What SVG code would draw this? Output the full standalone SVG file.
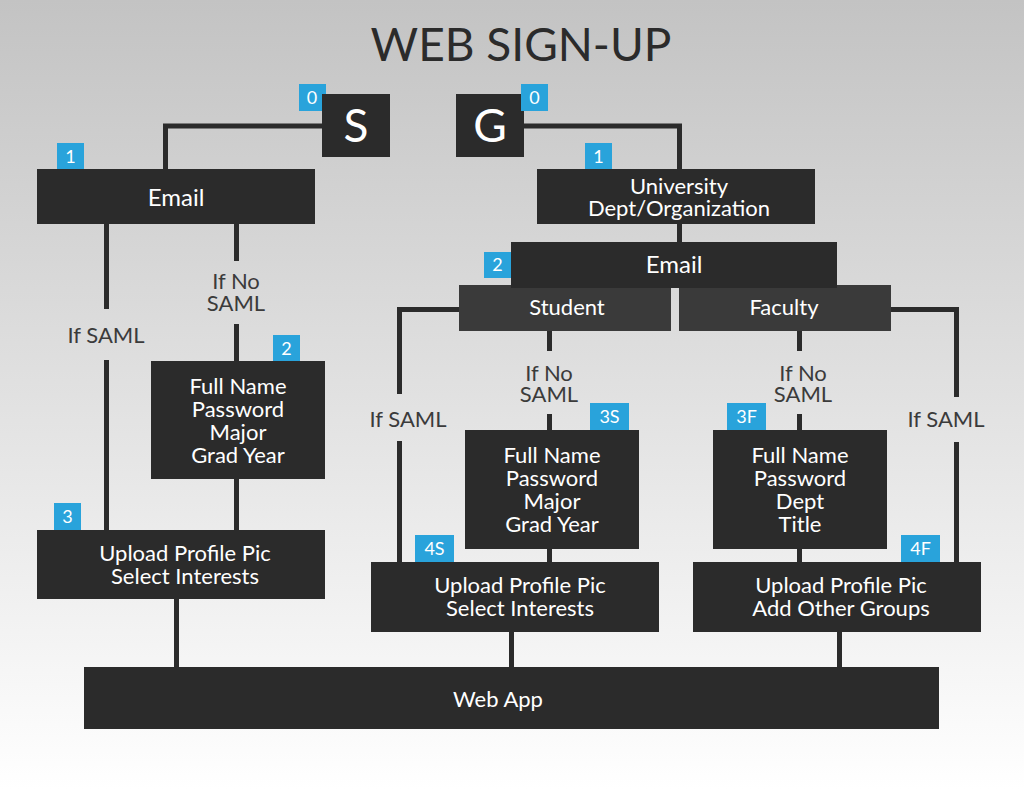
<svg xmlns="http://www.w3.org/2000/svg" width="1024" height="790" viewBox="0 0 1024 790">
<defs>
<linearGradient id="bg" x1="0" y1="0" x2="0" y2="1">
<stop offset="0" stop-color="#c3c3c3"/>
<stop offset="1" stop-color="#ffffff"/>
</linearGradient>
</defs>
<style>
.box{fill:#2b2b2b}
.sub{fill:#3a3a3a}
.badge{fill:#29a3db}
.t{font-family:Lato,"Noto Sans",sans-serif;fill:#ffffff;text-anchor:middle;font-size:22px}
.big{font-size:46px}
.em{font-size:24px}
.bt{font-family:Lato,"Noto Sans",sans-serif;fill:#ffffff;text-anchor:middle;font-size:18px}
.lbl{font-family:Lato,"Noto Sans",sans-serif;fill:#3b3b3b;text-anchor:middle;font-size:22px}
.ln{stroke:#2b2b2b;stroke-width:5;fill:none}
</style>
<rect x="0" y="0" width="1024" height="790" fill="url(#bg)"/>
<text x="521" y="61" style="font-family:Lato,'Noto Sans',sans-serif;font-size:46px;fill:#2b2b2b;text-anchor:middle">WEB SIGN-UP</text>
<g id="connectors">
<polyline class="ln" points="322,126 165.5,126 165.5,170"/>
<polyline class="ln" points="524,126 679.5,126 679.5,170"/>
<line class="ln" x1="679.5" y1="224" x2="679.5" y2="243"/>
<line class="ln" x1="106.5" y1="224" x2="106.5" y2="309"/>
<line class="ln" x1="106.5" y1="360" x2="106.5" y2="531"/>
<line class="ln" x1="236.5" y1="224" x2="236.5" y2="261"/>
<line class="ln" x1="236.5" y1="324" x2="236.5" y2="362"/>
<line class="ln" x1="236.5" y1="479" x2="236.5" y2="531"/>
<line class="ln" x1="176.5" y1="599" x2="176.5" y2="668"/>
<polyline class="ln" points="460,309.5 399.5,309.5 399.5,394"/>
<line class="ln" x1="399.5" y1="441" x2="399.5" y2="563"/>
<line class="ln" x1="549.5" y1="331" x2="549.5" y2="351"/>
<line class="ln" x1="549.5" y1="414" x2="549.5" y2="431"/>
<line class="ln" x1="549.5" y1="549" x2="549.5" y2="563"/>
<line class="ln" x1="511.5" y1="632" x2="511.5" y2="668"/>
<polyline class="ln" points="890,309.5 956.5,309.5 956.5,397"/>
<line class="ln" x1="956.5" y1="442" x2="956.5" y2="563"/>
<line class="ln" x1="799.5" y1="331" x2="799.5" y2="351"/>
<line class="ln" x1="799.5" y1="414" x2="799.5" y2="431"/>
<line class="ln" x1="799.5" y1="549" x2="799.5" y2="563"/>
<line class="ln" x1="839.5" y1="632" x2="839.5" y2="668"/>
</g>
<g id="labels">
<text class="lbl" x="106" y="343">If SAML</text>
<text class="lbl" x="236" y="289">If No</text>
<text class="lbl" x="236" y="311">SAML</text>
<text class="lbl" x="408" y="427">If SAML</text>
<text class="lbl" x="549" y="381">If No</text>
<text class="lbl" x="549" y="402">SAML</text>
<text class="lbl" x="946" y="427">If SAML</text>
<text class="lbl" x="803" y="381">If No</text>
<text class="lbl" x="803" y="402">SAML</text>
</g>
<g id="node-s">
<rect class="badge" x="299" y="84" width="27" height="27"/>
<text class="bt" x="312" y="104">0</text>
<rect class="box" x="322" y="94" width="68" height="63"/>
<text class="t big" x="356" y="142">S</text>
</g>
<g id="node-g">
<rect class="box" x="456" y="94" width="68" height="63"/>
<text class="t big" x="490" y="142">G</text>
<rect class="badge" x="521" y="84" width="27" height="27"/>
<text class="bt" x="534.5" y="104">0</text>
</g>
<g id="node-email-s">
<rect class="badge" x="57" y="143" width="27" height="27"/>
<text class="bt" x="70.5" y="163">1</text>
<rect class="box" x="37" y="169" width="278" height="55"/>
<text class="t em" x="176" y="206">Email</text>
</g>
<g id="node-full-s">
<rect class="badge" x="273" y="335" width="27" height="27"/>
<text class="bt" x="286.5" y="355">2</text>
<rect class="box" x="151" y="361" width="174" height="118"/>
<text class="t" x="238" y="394">Full Name</text>
<text class="t" x="238" y="417">Password</text>
<text class="t" x="238" y="440">Major</text>
<text class="t" x="238" y="463">Grad Year</text>
</g>
<g id="node-upload-s">
<rect class="badge" x="54" y="503" width="27" height="27"/>
<text class="bt" x="67.5" y="523">3</text>
<rect class="box" x="37" y="530" width="288" height="69"/>
<text class="t" x="185" y="561">Upload Profile Pic</text>
<text class="t" x="185" y="584">Select Interests</text>
</g>
<g id="node-univ">
<rect class="badge" x="585" y="143" width="27" height="27"/>
<text class="bt" x="598.5" y="163">1</text>
<rect class="box" x="537" y="169" width="278" height="55"/>
<text class="t" x="679" y="194">University</text>
<text class="t" x="679" y="216">Dept/Organization</text>
</g>
<g id="node-student">
<rect class="sub" x="459" y="285" width="212" height="46"/>
<text class="t" x="567" y="315">Student</text>
</g>
<g id="node-faculty">
<rect class="sub" x="679" y="285" width="212" height="46"/>
<text class="t" x="784" y="315">Faculty</text>
</g>
<g id="node-email-g">
<rect class="badge" x="484" y="252" width="27" height="26"/>
<text class="bt" x="497.5" y="271">2</text>
<rect class="box" x="511" y="242" width="326" height="46"/>
<text class="t em" x="674" y="273">Email</text>
</g>
<g id="node-full-student">
<rect class="badge" x="590" y="403" width="39" height="27"/>
<text class="bt" x="609.5" y="423">3S</text>
<rect class="box" x="465" y="430" width="174" height="119"/>
<text class="t" x="552" y="463">Full Name</text>
<text class="t" x="552" y="486">Password</text>
<text class="t" x="552" y="509">Major</text>
<text class="t" x="552" y="532">Grad Year</text>
</g>
<g id="node-full-faculty">
<rect class="badge" x="727" y="403" width="39" height="27"/>
<text class="bt" x="746.5" y="423">3F</text>
<rect class="box" x="713" y="430" width="174" height="119"/>
<text class="t" x="800" y="463">Full Name</text>
<text class="t" x="800" y="486">Password</text>
<text class="t" x="800" y="509">Dept</text>
<text class="t" x="800" y="532">Title</text>
</g>
<g id="node-upload-student">
<rect class="badge" x="415" y="535" width="39" height="27"/>
<text class="bt" x="434.5" y="555">4S</text>
<rect class="box" x="371" y="562" width="288" height="70"/>
<text class="t" x="520" y="593">Upload Profile Pic</text>
<text class="t" x="520" y="616">Select Interests</text>
</g>
<g id="node-upload-faculty">
<rect class="badge" x="901" y="535" width="39" height="27"/>
<text class="bt" x="920.5" y="555">4F</text>
<rect class="box" x="693" y="562" width="288" height="70"/>
<text class="t" x="841" y="593">Upload Profile Pic</text>
<text class="t" x="841" y="616">Add Other Groups</text>
</g>
<g id="node-webapp">
<rect class="box" x="84" y="667" width="855" height="62"/>
<text class="t" x="498" y="707">Web App</text>
</g>
</svg>
